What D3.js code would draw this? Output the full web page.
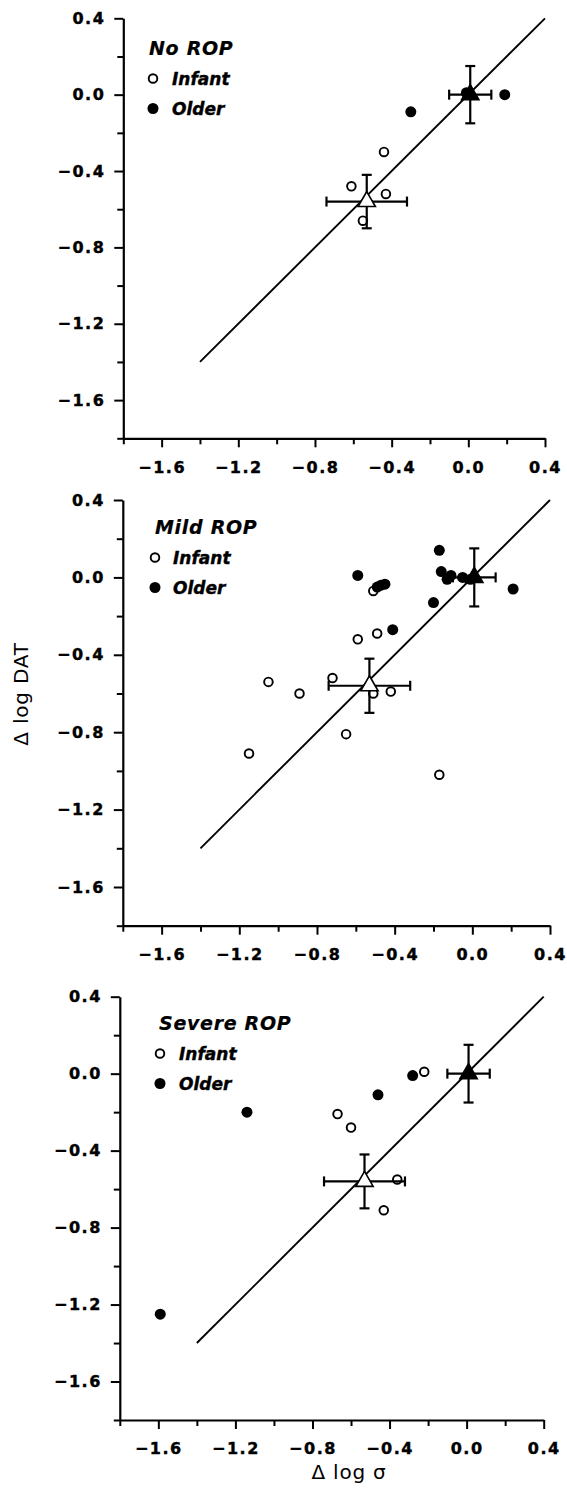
<!DOCTYPE html>
<html lang="en"><head>
<meta charset="utf-8">
<title>ROP scatter</title>
<script src="https://cdnjs.cloudflare.com/ajax/libs/d3/7.8.5/d3.min.js"></script>
<style>
  body { margin: 0; background: #fff; }
  svg text { font-family: "DejaVu Sans", sans-serif; fill: #000; }
  .tick text { font-size: 16px; font-weight: bold; letter-spacing: 1.5px; stroke: #000; stroke-width: 0.4px; }
  .legend-title { font-size: 19px; font-weight: bold; font-style: italic; letter-spacing: 0.7px; stroke: #000; stroke-width: 0.2px; }
  .legend-item { font-size: 17px; font-weight: bold; font-style: italic; stroke: #000; stroke-width: 0.4px; }
  .axis-title { font-size: 20px; letter-spacing: 0.8px; }
</style>
</head>
<body>
<div id="chart"></div>
<script>
// values: [delta log sigma, delta log DAT]
var panelTitles = ["No ROP", "Mild ROP", "Severe ROP"];

var noInfant = [[-0.44, -0.30], [-0.61, -0.48], [-0.43, -0.52], [-0.55, -0.66]];
var noOlder = [[-0.30, -0.09], [-0.01, 0.01], [0.19, 0.0]];

var mildInfant = [[-1.05, -0.54], [-0.89, -0.60], [-0.72, -0.52], [-0.59, -0.32],
  [-0.49, -0.29], [-0.51, -0.60], [-0.42, -0.59], [-0.65, -0.81], [-1.15, -0.91],
  [-0.17, -1.02], [-0.51, -0.07]];
var mildOlder = [[-0.59, 0.01], [-0.17, 0.14], [-0.16, 0.03], [-0.13, -0.01],
  [-0.11, 0.01], [-0.05, 0.0], [-0.01, -0.01], [-0.20, -0.13], [0.21, -0.06],
  [-0.41, -0.27], [-0.49, -0.05], [-0.47, -0.04], [-0.45, -0.035]];

var severeInfant = [[-0.22, 0.01], [-0.67, -0.21], [-0.60, -0.28], [-0.36, -0.55], [-0.43, -0.71]];
var severeOlder = [[-1.14, -0.20], [-1.59, -1.25], [-0.46, -0.11], [-0.28, -0.01]];

// group means with error bars: [x, y, xErr, yErr]
var meanInfant = [-0.53, -0.56, 0.21, 0.14];
var meanOlder = [0.01, 0.0, 0.11, 0.15];

var identityLine = [[-1.4, -1.4], [0.4, 0.4]];
var axisDomain = [-1.8, 0.4];
var majorTicks = [-1.6, -1.2, -0.8, -0.4, 0.0, 0.4];
var minorTicks = [-1.8, -1.4, -1.0, -0.6, -0.2, 0.2];

var infantSets = [noInfant, mildInfant, severeInfant];
var olderSets = [noOlder, mildOlder, severeOlder];

// pixel frame of each panel, and its legend placement
var frames = [
  { left: 123.3, right: 545, top: 18.3, bottom: 438.3, titleX: 149, markX: 153, textX: 172, titleY: 55 },
  { left: 122.8, right: 550, top: 500, bottom: 925.7, titleX: 155, markX: 155, textX: 173, titleY: 534 },
  { left: 119.8, right: 543.7, top: 996.7, bottom: 1420, titleX: 159, markX: 160, textX: 179, titleY: 1030 }
];

var svg = d3.select("#chart").append("svg")
  .attr("width", 567).attr("height", 1506);

var fmt = d3.format(".1f");

frames.forEach(function(f, i) {
  var x = d3.scaleLinear().domain(axisDomain).range([f.left, f.right]);
  var y = d3.scaleLinear().domain(axisDomain).range([f.bottom, f.top]);
  var g = svg.append("g");

  // axes: major ticks with labels, minor ticks without
  g.append("g").attr("transform", "translate(0," + f.bottom + ")")
    .call(d3.axisBottom(x).tickValues(majorTicks).tickSize(9).tickSizeOuter(0).tickPadding(14).tickFormat(fmt));
  g.append("g").attr("transform", "translate(0," + f.bottom + ")")
    .call(d3.axisBottom(x).tickValues(minorTicks).tickSize(6).tickSizeOuter(0).tickFormat(""))
    .select(".domain").remove();
  g.append("g").attr("transform", "translate(" + f.left + ",0)")
    .call(d3.axisLeft(y).tickValues(majorTicks).tickSize(9).tickSizeOuter(0).tickPadding(9).tickFormat(fmt));
  g.append("g").attr("transform", "translate(" + f.left + ",0)")
    .call(d3.axisLeft(y).tickValues(minorTicks).tickSize(6).tickSizeOuter(0).tickFormat(""))
    .select(".domain").remove();
  g.selectAll(".domain").attr("stroke", "#000").attr("stroke-width", 2.2);
  g.selectAll(".tick line").attr("stroke", "#000").attr("stroke-width", 2);

  // identity line
  g.append("path")
    .datum(identityLine)
    .attr("d", d3.line().x(function(d) { return x(d[0]); }).y(function(d) { return y(d[1]); }))
    .attr("stroke", "#000").attr("stroke-width", 1.9).attr("fill", "none");

  // individual points
  g.selectAll("circle.infant").data(infantSets[i]).enter().append("circle")
    .attr("class", "infant")
    .attr("cx", function(d) { return x(d[0]); })
    .attr("cy", function(d) { return y(d[1]); })
    .attr("r", 4.3).attr("fill", "#fff").attr("stroke", "#000").attr("stroke-width", 1.9);
  g.selectAll("circle.older").data(olderSets[i]).enter().append("circle")
    .attr("class", "older")
    .attr("cx", function(d) { return x(d[0]); })
    .attr("cy", function(d) { return y(d[1]); })
    .attr("r", 5.5).attr("fill", "#000");

  // means with error bars
  var cap = 5;
  [meanInfant, meanOlder].forEach(function(m, k) {
    var mx = x(m[0]), my = y(m[1]);
    var x0 = x(m[0] - m[2]), x1 = x(m[0] + m[2]);
    var y0 = y(m[1] - m[3]), y1 = y(m[1] + m[3]);
    var eb = g.append("g").attr("stroke", "#000").attr("stroke-width", 2.2);
    eb.append("line").attr("x1", x0).attr("x2", x1).attr("y1", my).attr("y2", my);
    eb.append("line").attr("x1", mx).attr("x2", mx).attr("y1", y0).attr("y2", y1);
    eb.append("line").attr("x1", x0).attr("x2", x0).attr("y1", my - cap).attr("y2", my + cap);
    eb.append("line").attr("x1", x1).attr("x2", x1).attr("y1", my - cap).attr("y2", my + cap);
    eb.append("line").attr("x1", mx - cap).attr("x2", mx + cap).attr("y1", y0).attr("y2", y0);
    eb.append("line").attr("x1", mx - cap).attr("x2", mx + cap).attr("y1", y1).attr("y2", y1);
    g.append("path")
      .attr("d", d3.symbol().type(d3.symbolTriangle).size(130)())
      .attr("transform", "translate(" + mx + "," + my + ")")
      .attr("fill", k === 0 ? "#fff" : "#000")
      .attr("stroke", "#000").attr("stroke-width", 1.6);
  });

  // legend
  g.append("text").attr("class", "legend-title")
    .attr("x", f.titleX).attr("y", f.titleY).text(panelTitles[i]);
  g.append("circle").attr("cx", f.markX).attr("cy", f.titleY + 23.5)
    .attr("r", 4.3).attr("fill", "#fff").attr("stroke", "#000").attr("stroke-width", 1.9);
  g.append("text").attr("class", "legend-item")
    .attr("x", f.textX).attr("y", f.titleY + 30).text("Infant");
  g.append("circle").attr("cx", f.markX).attr("cy", f.titleY + 53.5)
    .attr("r", 5.5).attr("fill", "#000");
  g.append("text").attr("class", "legend-item")
    .attr("x", f.textX).attr("y", f.titleY + 59.5).text("Older");
});

// axis titles
svg.append("text").attr("class", "axis-title")
  .attr("transform", "translate(28,694) rotate(-90)")
  .attr("text-anchor", "middle").text("Δ log DAT");
svg.append("text").attr("class", "axis-title")
  .attr("x", 349).attr("y", 1479)
  .attr("text-anchor", "middle").text("Δ log σ");
</script>
</body></html>
